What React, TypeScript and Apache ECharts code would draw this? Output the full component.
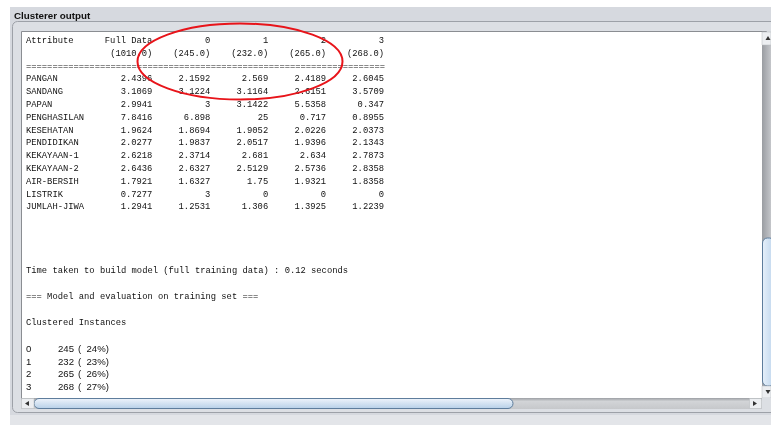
import React, { useEffect, useRef } from "react";
import * as echarts from "echarts";

const attributes = ["PANGAN", "SANDANG", "PAPAN", "PENGHASILAN", "KESEHATAN", "PENDIDIKAN", "KEKAYAAN-1", "KEKAYAAN-2", "AIR-BERSIH", "LISTRIK", "JUMLAH-JIWA"];
const fullData = [2.4396, 3.1069, 2.9941, 7.8416, 1.9624, 2.0277, 2.6218, 2.6436, 1.7921, 0.7277, 1.2941];
const cluster0 = [2.1592, 3.1224, 3, 6.898, 1.8694, 1.9837, 2.3714, 2.6327, 1.6327, 3, 1.2531];
const cluster1 = [2.569, 3.1164, 3.1422, 25, 1.9052, 2.0517, 2.681, 2.5129, 1.75, 0, 1.306];
const cluster2 = [2.4189, 2.6151, 5.5358, 0.717, 2.0226, 1.9396, 2.634, 2.5736, 1.9321, 0, 1.3925];
const cluster3 = [2.6045, 3.5709, 0.347, 0.8955, 2.0373, 2.1343, 2.7873, 2.8358, 1.8358, 0, 1.2239];
const clusterIds = ["0", "1", "2", "3"];
const fullSize = 1010;
const clusterSizes = [245, 232, 265, 268];
const clusterPercents = [24, 23, 26, 27];
const timeTaken = 0.12;

export default function App() {
  const ref = useRef<HTMLDivElement>(null);
  useEffect(() => {
    document.body.style.margin = "0";
    const chart = echarts.init(ref.current!, null, { renderer: "svg" });
    const FS = 8.8;
    const mono = `${FS}px "Liberation Mono", monospace`;
    const TXT = "#111111";
    const X0 = 26;
    const CW = 5.265;
    const LINE0 = 41;
    const LH = 12.8;
    const rowY = (i: number) => LINE0 + LH * i;
    const colRight = (c: number) => X0 + (24 + 11 * c) * CW; // c=0 full data, 1..4 clusters
    const els: any[] = [];
    const txt = (text: string, x: number, y: number, align: string, font = mono, fill = TXT) =>
      els.push({
        type: "text",
        z: 10,
        style: { text, x, y, font, fill, textAlign: align, align, textVerticalAlign: "middle", verticalAlign: "middle" },
      });

    // background
    els.push({ type: "rect", z: 0, shape: { x: 0, y: 0, width: 771, height: 425 }, style: { fill: "#ffffff" } });
    els.push({ type: "rect", z: 1, shape: { x: 10, y: 7, width: 761, height: 418 }, style: { fill: "#d6d9df" } });
    els.push({ type: "rect", z: 1, shape: { x: 10, y: 415, width: 761, height: 10 }, style: { fill: "#e3e5e9" } });
    els.push({ type: "text", z: 5, style: { text: "Clusterer output", x: 14, y: 15, font: 'bold 9.8px "Liberation Sans", Arial, sans-serif', fill: "#111", textVerticalAlign: "middle", verticalAlign: "middle" } });
    // bordered panel
    els.push({ type: "rect", z: 2, shape: { x: 12.5, y: 21.5, width: 780, height: 391, r: 5 }, style: { fill: "#dcdfe4", stroke: "#9da1a8", lineWidth: 1 } });
    // text area
    els.push({ type: "rect", z: 3, shape: { x: 21.5, y: 31.5, width: 745, height: 367 }, style: { fill: "#ffffff", stroke: "#8a8d92", lineWidth: 1 } });

    // vertical scrollbar
    els.push({ type: "rect", z: 4, shape: { x: 762, y: 32, width: 9, height: 366 }, style: { fill: new echarts.graphic.LinearGradient(0, 0, 1, 0, [{ offset: 0, color: "#9a9da2" }, { offset: 1, color: "#c4c6ca" }]) } });
    els.push({ type: "rect", z: 5, shape: { x: 762, y: 32, width: 9, height: 13 }, style: { fill: "#eceef1", stroke: "#b5b8bd", lineWidth: 0.5 } });
    els.push({ type: "polygon", z: 6, shape: { points: [[768, 36], [765.5, 40], [770.5, 40]] }, style: { fill: "#333" } });
    els.push({ type: "rect", z: 5, shape: { x: 762.5, y: 238, width: 12, height: 148, r: 5 }, style: { fill: new echarts.graphic.LinearGradient(0, 0, 1, 0, [{ offset: 0, color: "#e6f0fa" }, { offset: 1, color: "#bcd4ec" }]), stroke: "#5e7d9c", lineWidth: 1 } });
    els.push({ type: "rect", z: 5, shape: { x: 762, y: 386, width: 9, height: 12 }, style: { fill: "#eceef1", stroke: "#b5b8bd", lineWidth: 0.5 } });
    els.push({ type: "polygon", z: 6, shape: { points: [[765.5, 390], [770.5, 390], [768, 394]] }, style: { fill: "#333" } });

    // horizontal scrollbar
    els.push({ type: "rect", z: 4, shape: { x: 21, y: 398, width: 750, height: 11 }, style: { fill: new echarts.graphic.LinearGradient(0, 0, 0, 1, [{ offset: 0, color: "#9c9fa4" }, { offset: 0.3, color: "#d2d4d7" }, { offset: 1, color: "#c6c8cb" }]) } });
    els.push({ type: "rect", z: 5, shape: { x: 34, y: 398.5, width: 479, height: 10, r: 5 }, style: { fill: new echarts.graphic.LinearGradient(0, 0, 0, 1, [{ offset: 0, color: "#eef4fb" }, { offset: 1, color: "#b8d0e8" }]), stroke: "#5e7d9c", lineWidth: 1 } });
    els.push({ type: "rect", z: 6, shape: { x: 21.5, y: 398.5, width: 12.5, height: 10 }, style: { fill: "#eceef1", stroke: "#b5b8bd", lineWidth: 0.5 } });
    els.push({ type: "polygon", z: 7, shape: { points: [[25, 403.5], [29, 401], [29, 406]] }, style: { fill: "#333" } });
    els.push({ type: "rect", z: 5, shape: { x: 749.5, y: 398.5, width: 12, height: 10 }, style: { fill: "#eceef1", stroke: "#b5b8bd", lineWidth: 0.5 } });
    els.push({ type: "polygon", z: 6, shape: { points: [[753, 401], [757, 403.5], [753, 406]] }, style: { fill: "#333" } });
    els.push({ type: "rect", z: 5, shape: { x: 762, y: 398, width: 9, height: 11 }, style: { fill: "#dcdfe4" } });

    // table header
    txt("Attribute", X0, rowY(0), "left");
    txt("Full Data", colRight(0), rowY(0), "right");
    clusterIds.forEach((id, k) => txt(id, colRight(k + 1), rowY(0), "right"));
    txt(`(${fullSize.toFixed(1)})`, colRight(0), rowY(1), "right");
    clusterSizes.forEach((s, k) => txt(`(${s.toFixed(1)})`, colRight(k + 1), rowY(1), "right"));
    txt("=".repeat(68), X0, rowY(2), "left");
    const cols = [fullData, cluster0, cluster1, cluster2, cluster3];
    attributes.forEach((name, i) => {
      txt(name, X0, rowY(3 + i), "left");
      cols.forEach((arr, c) => txt(String(arr[i]), colRight(c), rowY(3 + i), "right"));
    });
    txt(`Time taken to build model (full training data) : ${timeTaken} seconds`, X0, rowY(18), "left");
    txt("=== Model and evaluation on training set ===", X0, rowY(20), "left");
    txt("Clustered Instances", X0, rowY(22), "left");
    const sans = '9.6px "Liberation Sans", Arial, sans-serif';
    clusterIds.forEach((id, k) => {
      txt(id, X0, rowY(24 + k), "left", sans);
      txt(String(clusterSizes[k]), 58, rowY(24 + k), "left", sans);
      txt(`(\u00a0\u00a0${clusterPercents[k]}%)`, 78, rowY(24 + k), "left", sans);
    });

    // red ellipse annotation
    els.push({ type: "ellipse", z: 20, shape: { cx: 240, cy: 61.5, rx: 102.5, ry: 38 }, style: { fill: "none", stroke: "#e8141a", lineWidth: 2 } });

    chart.setOption({ animation: false, graphic: { elements: els } });
    return () => chart.dispose();
  }, []);
  return <div ref={ref} style={{ position: "fixed", left: 0, top: 0, width: 771, height: 425 }} />;
}
